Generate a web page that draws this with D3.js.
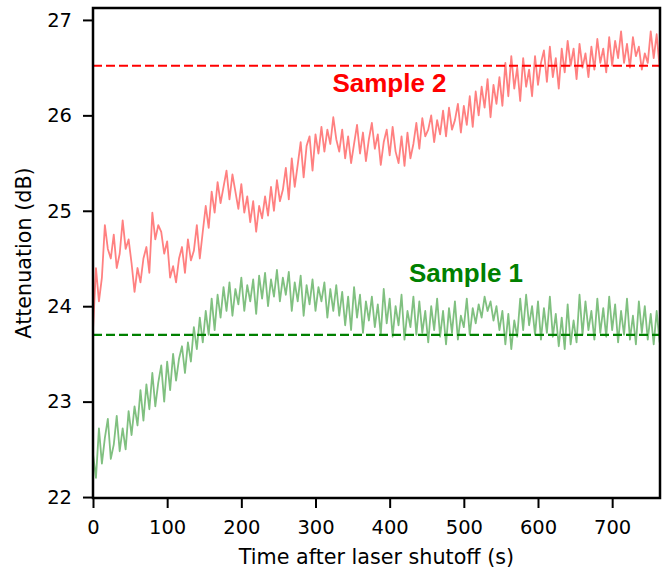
<!DOCTYPE html>
<html>
<head>
<meta charset="utf-8">
<script src="https://cdn.jsdelivr.net/npm/d3@7"></script>
<style>
    body { margin: 0; background: #fff; }
    .tick text { font-family: "DejaVu Sans", sans-serif; font-size: 19.5px; fill: #000; }
    .axis-label { font-family: "DejaVu Sans", sans-serif; font-size: 20.7px; fill: #000; }
    .sample-label { font-family: "Liberation Sans", Arial, sans-serif; font-size: 26px; font-weight: bold; }
</style>
</head>
<body>
<div id="chart"></div>
<script>
// seconds between samples
const sampleStep = 4;

// sample 2 (red), every 4 s
const sample2 = [
    23.75, 24.4, 24.05, 24.3, 24.85, 24.6, 24.5, 24.75, 24.4, 24.55,
    24.9, 24.6, 24.7, 24.45, 24.15, 24.4, 24.25, 24.5, 24.62, 24.35,
    24.98, 24.7, 24.85, 24.78, 24.55, 24.68, 24.3, 24.42, 24.25, 24.5,
    24.62, 24.35, 24.7, 24.48, 24.58, 24.85, 24.5, 24.78, 25.05, 24.82,
    25.2, 24.98, 25.3, 25.08, 25.25, 25.42, 25.12, 25.38, 25.2, 25.02,
    25.28, 24.98, 25.15, 24.88, 25.1, 24.78, 25.05, 24.92, 25.15, 24.95,
    25.25, 25.0, 25.32, 25.1, 25.22, 25.45, 25.12, 25.55, 25.25, 25.48,
    25.72, 25.35, 25.68, 25.78, 25.42, 25.8, 25.6, 25.88, 25.62, 25.85,
    25.7, 25.98, 25.75, 25.62, 25.85, 25.55, 25.78, 25.5, 25.7, 25.9,
    25.6, 25.82, 25.52, 25.75, 25.92, 25.65, 25.8, 25.48, 25.72, 25.85,
    25.58, 25.88, 25.62, 25.5, 25.78, 25.47, 25.82, 25.55, 25.7, 25.92,
    25.65, 25.97, 25.78, 25.85, 26.0, 25.72, 25.95, 25.8, 26.05, 25.78,
    26.08, 25.85, 25.95, 26.12, 25.82, 26.1, 25.9, 26.2, 25.88, 26.25,
    26.0, 26.3, 26.08, 26.38, 25.98, 26.32, 26.12, 26.4, 26.1, 26.55,
    26.2, 26.62, 26.28, 26.5, 26.15, 26.6, 26.3, 26.48, 26.2, 26.62,
    26.32, 26.55, 26.68, 26.35, 26.72, 26.4, 26.6, 26.28, 26.7, 26.45,
    26.78, 26.52, 26.7, 26.38, 26.75, 26.5, 26.65, 26.4, 26.72, 26.48,
    26.8, 26.55, 26.7, 26.45, 26.82, 26.52, 26.78, 26.6, 26.88, 26.55,
    26.75, 26.5, 26.82, 26.62, 26.72, 26.48, 26.65, 26.55, 26.88, 26.6,
    26.85, 26.5
];

// sample 1 (green)
const sample1 = [
    22.45, 22.2, 22.72, 22.35, 22.62, 22.82, 22.4, 22.55, 22.85, 22.48,
    22.72, 22.5, 22.9, 22.65, 22.95, 22.75, 23.12, 22.8, 23.18, 22.92,
    23.3, 22.95, 23.2, 23.38, 23.0, 23.42, 23.12, 23.5, 23.22, 23.45,
    23.58, 23.3, 23.62, 23.42, 23.78, 23.55, 23.88, 23.62, 23.95, 23.7,
    24.08, 23.75, 24.12, 23.88, 24.2, 23.95, 24.25, 23.9, 24.18, 24.02,
    24.3, 23.95, 24.22, 24.05, 24.28, 23.92, 24.32, 24.08, 24.35, 24.0,
    24.28, 24.1, 24.38, 24.05, 24.3, 24.12, 24.36, 23.95, 24.25, 24.05,
    24.32, 23.9, 24.22, 24.02, 24.28, 23.95, 24.2, 24.05, 24.25, 23.88,
    24.18, 23.95, 24.22, 23.9, 24.15, 23.8, 24.1, 23.75, 24.2, 23.88,
    24.12, 23.72, 24.05, 23.85, 24.1, 23.78, 24.02, 23.7, 24.18, 23.82,
    24.08, 23.68, 24.0, 23.8, 24.12, 23.65, 23.95, 23.78, 24.1, 23.7,
    24.05, 23.72, 23.95, 23.62, 24.0, 23.75, 24.08, 23.68, 23.95, 23.6,
    23.98, 23.72, 24.05, 23.65, 23.9, 23.78, 24.08, 23.7, 23.98, 23.82,
    24.02, 23.88, 24.1, 23.95, 24.05, 23.85, 24.0, 23.75, 23.95, 23.6,
    23.92, 23.55, 23.85, 23.68, 24.08, 23.75, 24.12, 23.8, 24.0, 23.7,
    24.05, 23.65, 23.98, 23.72, 24.1, 23.68, 23.92, 23.58, 23.88, 23.55,
    24.02, 23.6, 23.85, 23.62, 24.12, 23.7, 24.05, 23.75, 23.95, 23.65,
    24.08, 23.72, 23.98, 23.68, 24.1, 23.75, 24.02, 23.62, 23.95, 23.7,
    24.08, 23.65, 23.9, 23.6, 24.05, 23.72, 24.0, 23.65, 23.92, 23.6,
    23.95, 23.62
];

// reference levels (dashed)
const refLevels = [
    {name: "Sample 2", value: 26.52, color: "#ff0000"},
    {name: "Sample 1", value: 23.70, color: "#008000"}
];

const xTicks = [0, 100, 200, 300, 400, 500, 600, 700];
const yTicks = [22, 23, 24, 25, 26, 27];

const config = {
    width: 665,
    height: 571,
    margin: {top: 8, right: 5, bottom: 73, left: 93}
};

const innerW = config.width - config.margin.left - config.margin.right;
const innerH = config.height - config.margin.top - config.margin.bottom;

const svg = d3.select("#chart").append("svg")
    .attr("width", config.width)
    .attr("height", config.height);

const g = svg.append("g")
    .attr("transform", `translate(${config.margin.left},${config.margin.top})`);

const x = d3.scaleLinear().domain([0, 764.5]).range([0, innerW]);
const y = d3.scaleLinear().domain([21.99, 27.125]).range([innerH, 0]);

g.append("clipPath").attr("id", "plot-clip")
    .append("rect").attr("width", innerW).attr("height", innerH);

const line = d3.line()
    .x((d, i) => x(i * sampleStep))
    .y(d => y(d));

const plot = g.append("g").attr("clip-path", "url(#plot-clip)");

plot.append("path")
    .datum(sample2)
    .attr("d", line)
    .attr("fill", "none")
    .attr("stroke", "#ff8080")
    .attr("stroke-width", 1.8)
    .attr("stroke-linejoin", "round");

plot.append("path")
    .datum(sample1)
    .attr("d", line)
    .attr("fill", "none")
    .attr("stroke", "#80c080")
    .attr("stroke-width", 1.8)
    .attr("stroke-linejoin", "round");

plot.selectAll(".ref")
    .data(refLevels)
    .enter().append("line")
        .attr("class", "ref")
        .attr("x1", 0)
        .attr("x2", innerW)
        .attr("y1", d => y(d.value))
        .attr("y2", d => y(d.value))
        .attr("stroke", d => d.color)
        .attr("stroke-width", 2.2)
        .attr("stroke-dasharray", "9,4");

// axes
const xAxis = g.append("g")
    .attr("transform", `translate(0,${innerH})`)
    .call(d3.axisBottom(x).tickValues(xTicks).tickSize(10).tickPadding(12).tickFormat(d3.format("d")));

const yAxis = g.append("g")
    .call(d3.axisLeft(y).tickValues(yTicks).tickSize(10).tickPadding(11).tickFormat(d3.format("d")));

[xAxis, yAxis].forEach(a => {
    a.select(".domain").remove();
    a.selectAll(".tick line").attr("stroke", "#000").attr("stroke-width", 2);
});

g.append("rect")
    .attr("width", innerW)
    .attr("height", innerH)
    .attr("fill", "none")
    .attr("stroke", "#000")
    .attr("stroke-width", 2.5);

// labels
svg.append("text")
    .attr("class", "axis-label")
    .attr("text-anchor", "middle")
    .attr("x", config.margin.left + innerW / 2)
    .attr("y", 564)
    .text("Time after laser shutoff (s)");

svg.append("text")
    .attr("class", "axis-label")
    .attr("text-anchor", "middle")
    .attr("transform", `translate(31,${config.margin.top + innerH / 2}) rotate(-90)`)
    .text("Attenuation (dB)");

g.append("text")
    .attr("class", "sample-label")
    .attr("text-anchor", "middle")
    .attr("x", 389.5 - config.margin.left)
    .attr("y", 92 - config.margin.top)
    .attr("fill", refLevels[0].color)
    .text(refLevels[0].name);

g.append("text")
    .attr("class", "sample-label")
    .attr("text-anchor", "middle")
    .attr("x", 466 - config.margin.left)
    .attr("y", 282 - config.margin.top)
    .attr("fill", refLevels[1].color)
    .text(refLevels[1].name);
</script>
</body>
</html>
